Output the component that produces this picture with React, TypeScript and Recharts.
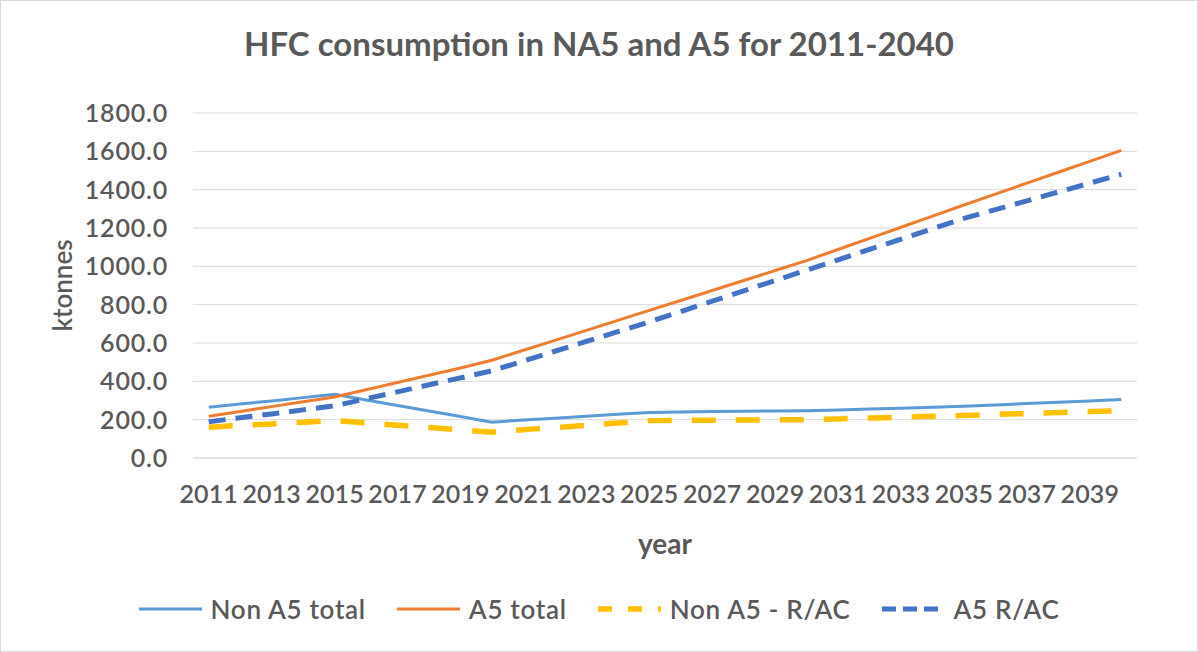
import { LineChart, Line, XAxis, YAxis, CartesianGrid, Legend, Label } from 'recharts';

const YEARS = [
  2011, 2012, 2013, 2014, 2015, 2016, 2017, 2018, 2019, 2020,
  2021, 2022, 2023, 2024, 2025, 2026, 2027, 2028, 2029, 2030,
  2031, 2032, 2033, 2034, 2035, 2036, 2037, 2038, 2039, 2040,
];

const NON_A5_TOTAL = [
  265, 282, 298, 315, 332, 303, 274, 245, 216, 187,
  198, 208, 218, 228, 238, 240, 242, 244, 245, 247,
  251, 256, 260, 265, 270, 277, 284, 291, 298, 305,
];

const A5_TOTAL = [
  218, 243, 268, 293, 318, 356, 394, 432, 470, 510,
  562, 614, 666, 718, 770, 822, 874, 926, 978, 1030,
  1088, 1146, 1204, 1262, 1320, 1377, 1434, 1491, 1548, 1605,
];

const NON_A5_RAC = [
  161, 170, 178, 187, 195, 183, 171, 159, 147, 135,
  147, 159, 171, 183, 195, 196, 197, 198, 199, 200,
  204, 209, 213, 218, 222, 227, 232, 237, 242, 247,
];

const A5_RAC = [
  189, 210, 230, 251, 272, 309, 345, 382, 418, 455,
  506, 557, 608, 659, 710, 764, 818, 872, 926, 980,
  1034, 1088, 1142, 1196, 1250, 1296, 1342, 1388, 1434, 1480,
];

const Y_TICKS = [0, 200, 400, 600, 800, 1000, 1200, 1400, 1600, 1800];

const SERIES = [
  { key: 'nonA5Total', name: 'Non A5 total', color: '#5B9BD5', width: 3, dash: undefined, legendDash: undefined },
  { key: 'a5Total', name: 'A5 total', color: '#ED7D31', width: 3, dash: undefined, legendDash: undefined },
  { key: 'nonA5Rac', name: 'Non A5 - R/AC', color: '#FFC000', width: 5.5, dash: '24 20', legendDash: '14 16' },
  { key: 'a5Rac', name: 'A5 R/AC', color: '#4472C4', width: 5, dash: '17 10', legendDash: '14 7' },
];

const data = YEARS.map((year, i) => ({
  year: String(year),
  nonA5Total: NON_A5_TOTAL[i],
  a5Total: A5_TOTAL[i],
  nonA5Rac: NON_A5_RAC[i],
  a5Rac: A5_RAC[i],
}));

const FONT = 'Lato, "Open Sans", sans-serif';
const TEXT = '#595959';

function renderLegend() {
  return (
    <div style={{ display: 'flex', justifyContent: 'center', gap: 31, fontFamily: FONT, fontSize: 26, letterSpacing: 0.7, color: TEXT, fontWeight: 600 }}>
      {SERIES.map((s) => (
        <div key={s.key} style={{ display: 'flex', alignItems: 'center', gap: 9 }}>
          <svg width={63} height={12}>
            <line x1={0} y1={6} x2={63} y2={6} stroke={s.color} strokeWidth={s.width} strokeDasharray={s.legendDash} />
          </svg>
          <span>{s.name}</span>
        </div>
      ))}
    </div>
  );
}

export default function App() {
  return (
    <div style={{ position: 'absolute', left: 0, top: 0, width: 1198, height: 652, background: '#fff', boxSizing: 'border-box', border: '1px solid #d9d9d9' }}>
      <div style={{ position: 'absolute', top: 22, width: '100%', textAlign: 'center', fontFamily: FONT, fontWeight: 700, fontSize: 33, color: TEXT }}>
        HFC consumption in NA5 and A5 for 2011-2040
      </div>
      <LineChart width={1196} height={650} data={data} margin={{ top: 112, right: 60, bottom: 71, left: 92 }}>
        <CartesianGrid stroke="#d9d9d9" vertical={false} />
        <XAxis
          dataKey="year"
          scale="band"
          interval={1}
          tickLine={false}
          axisLine={{ stroke: '#d9d9d9' }}
          tick={{ fill: TEXT, fontSize: 25, fontFamily: FONT, fontWeight: 600, letterSpacing: 0.1 }}
          tickMargin={21}
          height={90}
        >
          <Label value="year" position="insideBottom" offset={-6} fill={TEXT} fontSize={28} fontWeight={700} fontFamily={FONT} />
        </XAxis>
        <YAxis
          domain={[0, 1800]}
          ticks={Y_TICKS}
          interval={0}
          tickFormatter={(v: number) => v.toFixed(1)}
          tickLine={false}
          axisLine={false}
          tick={{ fill: TEXT, fontSize: 25, fontFamily: FONT, fontWeight: 600, letterSpacing: 0.8 }}
          tickMargin={19}
          width={100}
        >
          <Label value="ktonnes" angle={-90} position="insideLeft" offset={-30} fill={TEXT} fontSize={26} fontWeight={600} fontFamily={FONT} style={{ textAnchor: 'middle' }} />
        </YAxis>
        <Legend content={renderLegend} wrapperStyle={{ top: 592, left: 0, width: 1196 }} />
        {SERIES.map((s) => (
          <Line
            key={s.key}
            dataKey={s.key}
            name={s.name}
            stroke={s.color}
            strokeWidth={s.width}
            strokeDasharray={s.dash}
            dot={false}
            type="linear"
            isAnimationActive={false}
          />
        ))}
      </LineChart>
    </div>
  );
}
